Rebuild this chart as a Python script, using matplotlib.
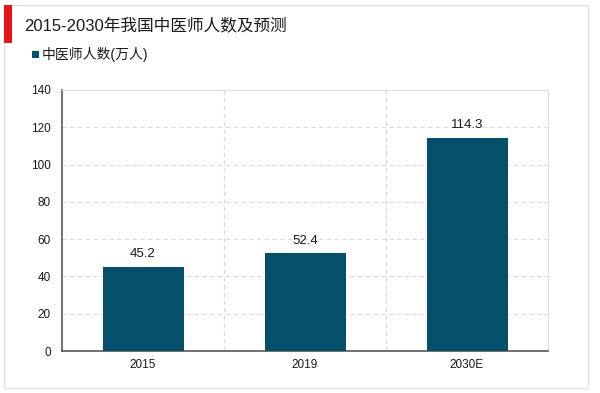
import matplotlib
matplotlib.use('Agg')
import matplotlib.pyplot as plt
from matplotlib.patches import Rectangle

plt.rcParams['font.family'] = ['Liberation Sans', 'Noto Sans CJK SC', 'DejaVu Sans']

# data
years = ['2015', '2019', '2030E']
doctors = [45.2, 52.4, 114.3]
title = '2015-2030年我国中医师人数及预测'
series_name = '中医师人数(万人)'
bar_color = '#04506A'

W, H = 600, 393
fig = plt.figure(figsize=(W / 100, H / 100), dpi=100)
fig.patch.set_facecolor('white')

# outer frame and red title marker
fig.add_artist(Rectangle((4 / W, 5 / H), 584 / W, 383 / H, transform=fig.transFigure,
                         fill=False, edgecolor='#e3e3e3', lw=1.0))
fig.add_artist(Rectangle((4 / W, 1 - 43 / H), 8 / W, 38 / H, transform=fig.transFigure,
                         facecolor='#e8141b', edgecolor='none'))
fig.text(24 / W, 1 - 25 / H, title, fontsize=12, va='center', ha='left', color='#1a1a1a')

# legend
fig.add_artist(Rectangle((32 / W, 1 - 58 / H), 7 / W, 7 / H, transform=fig.transFigure,
                         facecolor=bar_color, edgecolor='none'))
fig.text(42 / W, 1 - 54.5 / H, series_name, fontsize=10, va='center', ha='left', color='#1a1a1a')

ax = fig.add_axes([62 / W, 1 - 351 / H, 486 / W, 261 / H])
x = range(len(years))
bars = ax.bar(x, doctors, width=0.5, color=bar_color, zorder=3)
for b, v in zip(bars, doctors):
    ax.text(b.get_x() + b.get_width() / 2, v + 3.5, f'{v}', ha='center', va='bottom',
            fontsize=9.5, color='#1a1a1a', zorder=4)

ax.set_xlim(-0.5, len(years) - 0.5)
ax.set_ylim(0, 140)
ax.set_yticks(range(0, 141, 20))
ax.set_xticks(list(x))
ax.set_xticklabels(years)
ax.set_xticks([0.5, 1.5], minor=True)
ax.tick_params(axis='both', which='both', length=0, labelsize=8.5, colors='#1a1a1a')
ax.tick_params(axis='y', pad=8)
ax.tick_params(axis='x', pad=6)
ax.grid(axis='y', which='major', color='#d9d9d9', linestyle=(0, (4, 3)), lw=0.8, zorder=0)
ax.grid(axis='x', which='minor', color='#d9d9d9', linestyle=(0, (4, 3)), lw=0.8, zorder=0)
ax.grid(axis='x', which='major', visible=False)

ax.spines['left'].set_color('#595959')
ax.spines['bottom'].set_color('#595959')
ax.spines['left'].set_linewidth(1.2)
ax.spines['bottom'].set_linewidth(1.2)
ax.spines['top'].set_color('#e0e0e0')
ax.spines['right'].set_color('#e0e0e0')

fig.savefig('out.png', dpi=100)
